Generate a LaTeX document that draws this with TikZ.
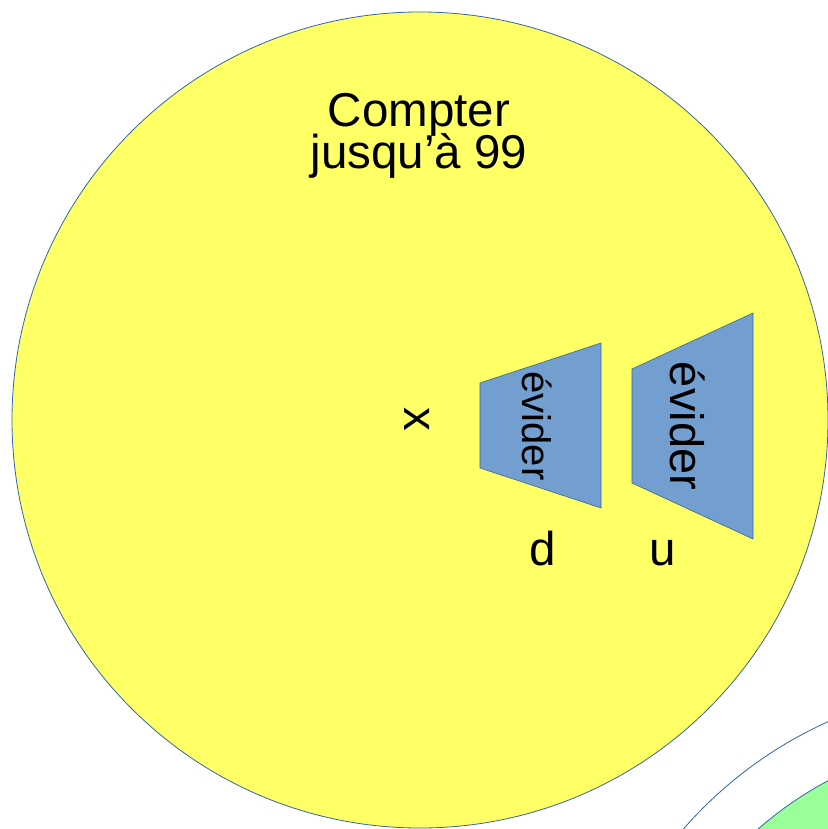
\documentclass[tikz,border=0pt]{standalone}
\usepackage{fontspec}
\setmainfont{Liberation Sans}
\usepackage{tikz}
\definecolor{discyellow}{HTML}{FFFF66}
\definecolor{discgreen}{HTML}{99FF99}
\definecolor{edgeblue}{HTML}{3465A4}
\definecolor{trapblue}{HTML}{729FCF}
\newcommand{\bigsans}{\fontsize{47.5}{41}\selectfont\lineskiplimit-50pt\relax}

\begin{document}
\begin{tikzpicture}[x=1pt, y=-1pt,
    disc/.style={draw=edgeblue, line width=0.8pt, circle, inner sep=0pt},
    trap/.style={draw=edgeblue, line width=0.6pt, fill=trapblue},
    bigtxt/.style={inner sep=0pt, font=\bigsans}]
    \useasboundingbox (0,0) rectangle (827,829);

    \node[disc, fill=discyellow, minimum size=816pt] (count) at (420,420) {};
    \node[disc, fill=white, minimum size=840pt] (ring) at (1000,1105) {};
    \node[disc, fill=discgreen, minimum size=734pt] (inner) at (1000,1105) {};

    % base anchor sits on the last line
    \node[bigtxt, align=center, anchor=base] (title) at (419,168) {Compter\\jusqu’à 99};

    \draw[trap] (480,383) -- (601,343) -- (601,508) -- (480,468) -- cycle;
    \draw[trap] (632,369) -- (753,313) -- (753,539) -- (632,483) -- cycle;
    \node[inner sep=0pt, rotate=-90, font=\fontsize{40}{40}\selectfont] (emptyd) at (537,426) {évider};
    \node[inner sep=0pt, rotate=-90, font=\fontsize{47}{47}\selectfont] (emptyu) at (688,426) {évider};

    \node[bigtxt, rotate=-90] (x) at (417,419) {x};
    \node[bigtxt, anchor=base] (d) at (543,565) {d};
    \node[bigtxt, anchor=base] (u) at (663,565) {u};
\end{tikzpicture}
\end{document}
